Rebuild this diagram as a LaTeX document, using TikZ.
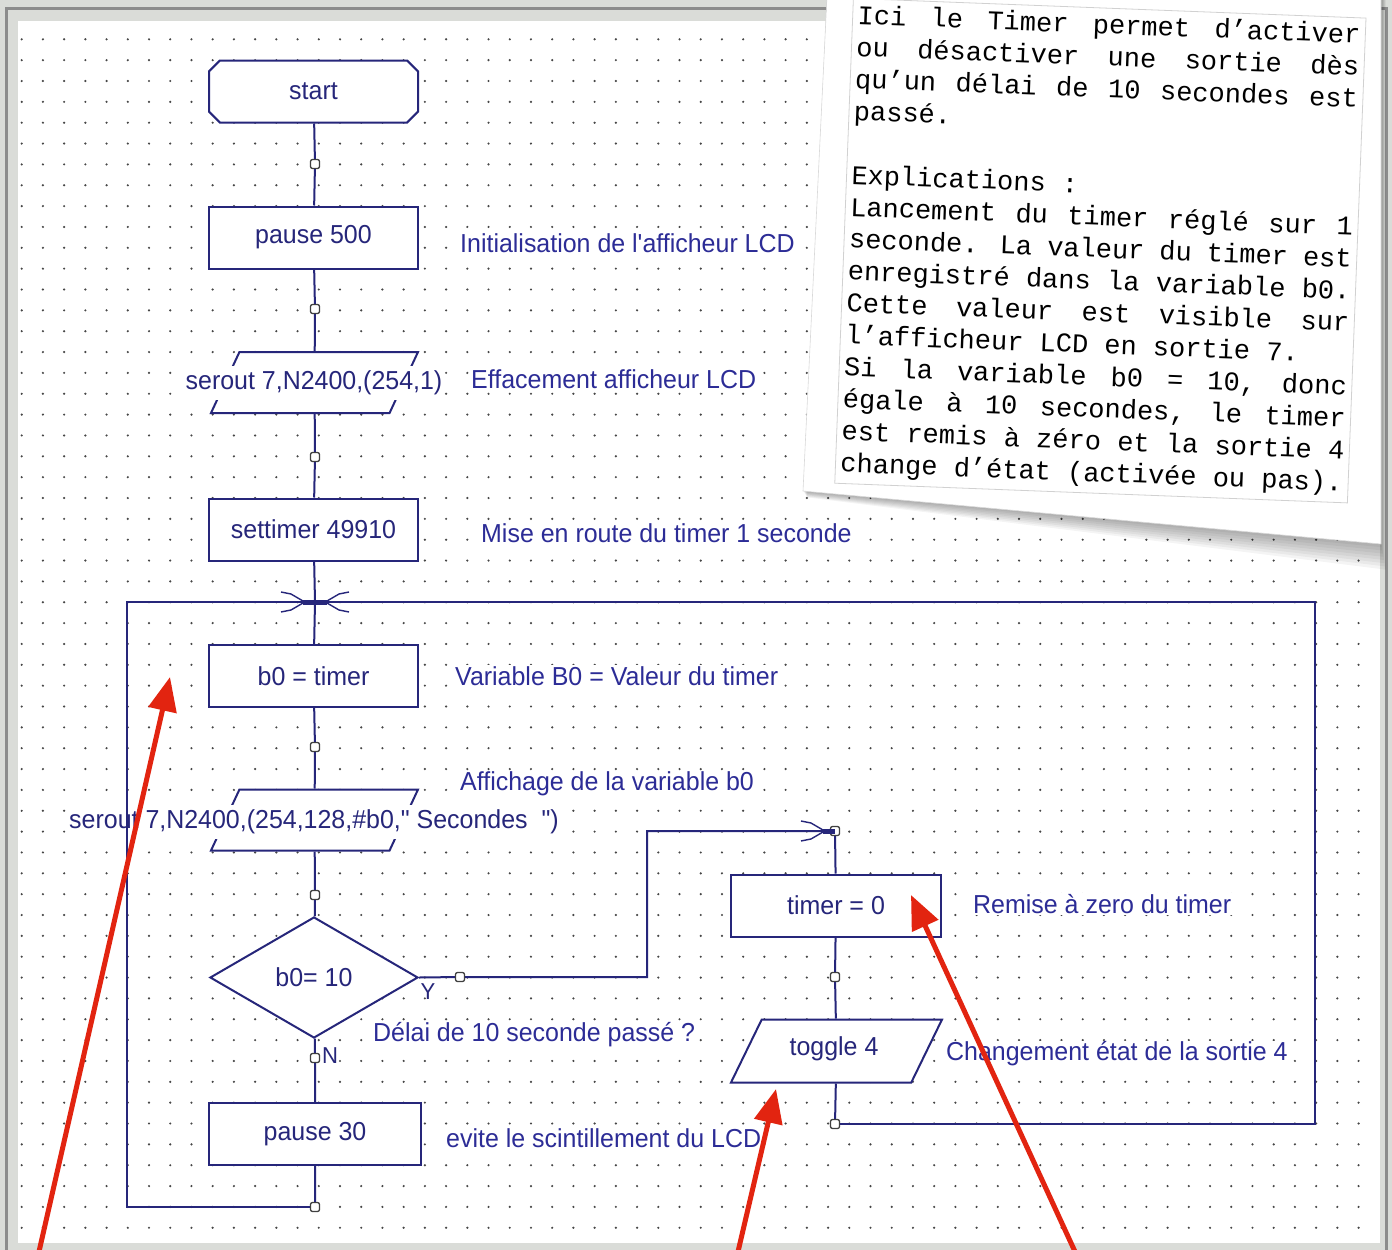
\documentclass[tikz,border=0pt]{standalone}
\usepackage{fontspec}
\usetikzlibrary{shapes.geometric,shapes.misc,arrows.meta,positioning,calc}
\newfontfamily\flowfamily{Liberation Sans}[FakeStretch=0.96]
\newfontfamily\cardfamily{Liberation Mono}
\definecolor{flowblue}{RGB}{38,38,122}
\definecolor{noteblue}{RGB}{44,44,150}
\definecolor{arrowred}{RGB}{226,36,16}
\definecolor{framegray}{RGB}{218,220,216}
\definecolor{dotgray}{RGB}{70,70,70}
\tikzset{
	flowline/.style={draw=flowblue,line width=2pt},
	procbox/.style={rectangle,draw=flowblue,fill=white,line width=2pt,minimum width=209pt,minimum height=62pt,inner sep=0pt,text=flowblue,font=\myflowfont},
	startbox/.style={procbox,chamfered rectangle,chamfered rectangle xsep=8pt,chamfered rectangle angle=45},
	iobox/.style={trapezium,trapezium left angle=65,trapezium right angle=115,trapezium stretches body=true,draw=flowblue,fill=white,line width=2pt,minimum width=207pt,inner xsep=0pt,inner ysep=30.5pt},
	iotext/.style={fill=white,text=flowblue,font=\myflowfont,inner xsep=2pt,inner ysep=5pt},
	testbox/.style={diamond,aspect=1.7,draw=flowblue,fill=white,line width=2pt,minimum width=208pt,minimum height=121pt,inner sep=0pt,text=flowblue,font=\myflowfont},
	joint/.style={rectangle,rounded corners=2pt,draw=black!75,fill=white,line width=1.3pt,minimum size=9pt,inner sep=0pt},
	branchtag/.style={text=flowblue,font=\mybranchfont,inner sep=0pt},
	remark/.style={anchor=west,fill=white,text=noteblue,font=\myflowfont,inner xsep=2pt,inner ysep=1pt},
	cardtext/.style={anchor=north west,rotate=-2.2,text width=503pt,align=justify,font=\mycardfont,draw=black!18,line width=0.8pt,inner xsep=5pt,inner ysep=6pt},
	redarrow/.style={draw=arrowred,line width=5pt,-{Triangle[length=34pt,width=28pt]}}
}
\begin{document}
\begin{tikzpicture}[x=1pt,y=-1pt]
	\newcommand{\myflowfont}{\flowfamily\fontsize{26}{30}\selectfont}
	\newcommand{\mybranchfont}{\flowfamily\fontsize{23}{26}\selectfont}
	\newcommand{\mycardfont}{\cardfamily\fontsize{27}{32}\selectfont\fontdimen3\font=20pt\tolerance=10000\relax}
	\newcommand{\mergetip}[2]{
		\begin{scope}[shift={(#1)},xscale=#2]
			\draw[flowblue,line width=1.4pt] (-34,-10) -- (-24,-8) -- (-12,-1);
			\draw[flowblue,line width=1.4pt] (-34,10) -- (-24,8) -- (-12,1);
			\fill[flowblue] (-12,-2) rectangle (0,2.5);
		\end{scope}
	}
	\useasboundingbox (0,0) rectangle (1392,1250);
	%Window frame
	\fill[framegray] (0,0) rectangle (1392,1250);
	\draw[black!45,line width=3pt] (6.5,8.5) rectangle (1386,1265);
	\fill[white] (18,21) rectangle (1380,1243);
	%Dotted grid
	\foreach \i in {0,...,63} {
		\foreach \j in {0,...,57} {
			\fill[dotgray] (21.7+21.22*\i,39.3+20.85*\j) circle (1.2);
		}
	}
	%Main column
	\node[startbox] (start) at (313.5,91.5) {start};
	\node[joint] (j1) at (315,164) {};
	\node[procbox] (pause500) at (313.5,237.5) {pause 500};
	\node[joint] (j2) at (315,309) {};
	\node[iobox] (clearlcd) at (314.5,382.5) {};
	\node[iotext] (clearlcdtext) at (314,383) {serout 7,N2400,(254,1)};
	\node[joint] (j3) at (315,457) {};
	\node[procbox] (settimer) at (313.5,529.5) {settimer 49910};
	\coordinate (jmerge) at (315,602);
	\node[procbox] (readtimer) at (313.5,676) {b0 = timer};
	\node[joint] (j4) at (315,747) {};
	\node[iobox] (showb0) at (314.5,820) {};
	\node[iotext] (showb0text) at (314,822) {serout 7,N2400,(254,128,\#b0," Secondes\ \ ")};
	\node[joint] (j5) at (315,895) {};
	\node[testbox] (test) at (314,977.5) {b0= 10};
	\node[joint] (jno) at (315,1058) {};
	\node[procbox,minimum width=212pt] (pause30) at (315,1134) {pause 30};
	\node[joint] (jend) at (315,1207) {};
	%Branch Y
	\node[joint] (jyes) at (460,977) {};
	\node[joint] (jtop) at (835,831) {};
	\node[procbox,minimum width=210pt] (resettimer) at (836,905.5) {timer = 0};
	\node[joint] (jmid) at (835,977) {};
	\node[iobox,trapezium left angle=64,trapezium right angle=116,minimum width=211pt,inner ysep=31.5pt] (toggle) at (836.5,1051) {};
	\node[text=flowblue,font=\myflowfont] (toggletext) at (834,1049) {toggle 4};
	\node[joint] (jback) at (835,1124) {};
	%Corners of the loop
	\coordinate (loopsw) at (127,1207);
	\coordinate (loopnw) at (127,602);
	\coordinate (loopne) at (1315,602);
	\coordinate (loopse) at (1315,1124);
	\coordinate (yturn) at (647,831);
	%Flow lines
	\draw[flowline] (start) -- (j1) -- (pause500) -- (j2) -- (clearlcd) -- (j3) -- (settimer) -- (jmerge) -- (readtimer) -- (j4) -- (showb0) -- (j5) -- (test) -- (jno) -- (pause30) -- (jend);
	\draw[flowline] (jend) -- (loopsw) -- (loopnw) -- (loopne) -- (loopse) -- (jback);
	\draw[flowline] (test.east) -- (jyes) -| (yturn) -- (jtop);
	\draw[flowline] (jtop) -- (resettimer) -- (jmid) -- (toggle) -- (jback);
	\mergetip{jmerge}{1}
	\mergetip{jmerge}{-1}
	\mergetip{jtop}{1}
	\node[branchtag] (ytag) at (428,992) {Y};
	\node[branchtag] (ntag) at (330,1056) {N};
	%Comments beside the chart
	\node[remark] (rinit) at (458,243) {Initialisation de l'afficheur LCD};
	\node[remark] (rclear) at (469,379) {Effacement afficheur LCD};
	\node[remark] (rstart) at (479,533) {Mise en route du timer 1 seconde};
	\node[remark] (rread) at (453,676) {Variable B0 = Valeur du timer};
	\node[remark] (rshow) at (458,784) {Affichage de la variable b0};
	\node[remark] (rreset) at (971,904) {Remise à zero du timer};
	\node[remark] (rtest) at (371,1035) {Délai de 10 seconde passé ?};
	\node[remark] (rtoggle) at (944,1054) {Changement état de la sortie 4};
	\node[remark] (rpause) at (444,1138) {evite le scintillement du LCD};
	%Note card
	\coordinate (cardnw) at (827,-4);
	\coordinate (cardne) at (1381,-4);
	\coordinate (cardse) at (1381,544);
	\coordinate (cardsw) at (803,491);
	\foreach \s in {1,...,8} {
		\fill[black,opacity=0.045] ($(cardsw)+(0.5*\s,0.8*\s)$) -- ($(cardse)+(0.6*\s,3.2*\s)$) -- ($(cardne)+(0.6*\s,0)$) -- (cardnw) -- cycle;
	}
	\fill[white,draw=black!15,line width=0.6pt] (cardnw) -- (cardne) -- (cardse) -- (cardsw) -- cycle;
	\node[cardtext] (cardbody) at (853,-2) {Ici le Timer permet d’activer\linebreak
		ou désactiver une sortie dès\linebreak
		qu’un délai de 10 secondes est\linebreak
		passé.\par
		\mbox{}\par
		Explications :\par
		Lancement du timer réglé sur 1\linebreak
		seconde. La valeur du timer est\linebreak
		enregistré dans la variable b0.\linebreak
		Cette valeur est visible sur\linebreak
		l’afficheur LCD en sortie 7.\par
		Si la variable b0 = 10, donc\linebreak
		égale à 10 secondes, le timer\linebreak
		est remis à zéro et la sortie 4\linebreak
		change d’état (activée ou pas).};
	%Red pointers
	\coordinate (tailA) at (38,1256);
	\coordinate (tipA) at (170,677);
	\coordinate (tailB) at (737,1256);
	\coordinate (tipB) at (776,1089);
	\coordinate (tailC) at (1077,1256);
	\coordinate (tipC) at (911,895);
	\draw[redarrow] (tailA) -- (tipA);
	\draw[redarrow] (tailB) -- (tipB);
	\draw[redarrow] (tailC) -- (tipC);
\end{tikzpicture}
\end{document}
